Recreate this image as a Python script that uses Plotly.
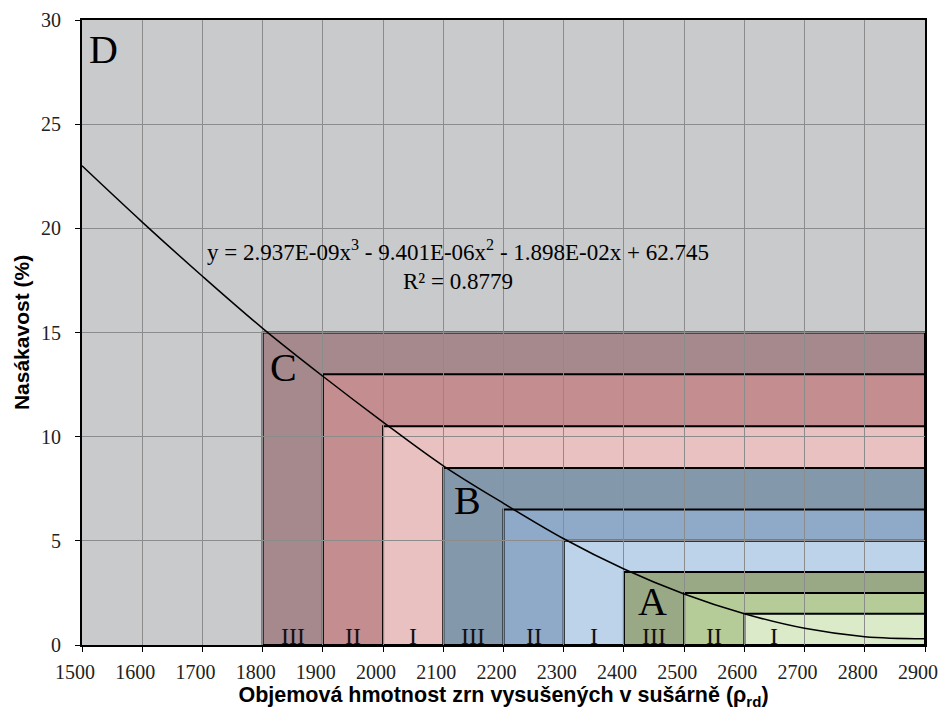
import plotly.graph_objects as go

# Trend line values
curve_x = [1500, 1600, 1700, 1800, 1900, 2000, 2100, 2200, 2300, 2400, 2500, 2600, 2700, 2800, 2900]
curve_y = [23.0, 20.3, 17.7, 15.2, 12.9, 10.7, 8.6, 6.8, 5.1, 3.65, 2.45, 1.5, 0.8, 0.4, 0.3]

# Nested class regions (start x, top y), all extending to x = 2900, from y = 0
region_x0 = [1800, 1900, 2000, 2100, 2200, 2300, 2400, 2500, 2600]
region_top = [15, 13, 10.5, 8.5, 6.5, 5, 3.5, 2.5, 1.5]
region_end = 2900
region_colors = ["#a5898c", "#c48d8f", "#e9c1c1", "#8498ab", "#8faac9", "#bcd3ea",
                 "#9aa985", "#b5cc98", "#dbeac8"]
region_labels = ["III", "II", "I", "III", "II", "I", "III", "II", "I"]

group_letters = ["D", "C", "B", "A"]
group_x = [1535, 1834, 2141, 2447]
group_y = [28.6, 13.3, 6.95, 2.1]

equation = "y = 2.937E-09x<sup>3</sup> - 9.401E-06x<sup>2</sup> - 1.898E-02x + 62.745"
r_squared = "R² = 0.8779"

serif = "Liberation Serif, Times New Roman, serif"
sans = "Liberation Sans, Arial, sans-serif"

fig = go.Figure()

shapes = []
for x0, top, col in zip(region_x0, region_top, region_colors):
    shapes.append(dict(type="rect", xref="x", yref="y", x0=x0, x1=region_end, y0=0, y1=top,
                       fillcolor=col, line=dict(color="black", width=2), layer="below"))

fig.add_trace(go.Scatter(x=curve_x, y=curve_y, mode="lines",
                         line=dict(color="black", width=1.5, shape="spline"),
                         hoverinfo="skip", showlegend=False))

annotations = []
for x0, lab in zip(region_x0, region_labels):
    annotations.append(dict(x=x0 + 50, y=0, xref="x", yref="y", text=lab, showarrow=False,
                            yanchor="bottom", yshift=-6,
                            font=dict(family=serif, size=24, color="#111")))
for let, gx, gy in zip(group_letters, group_x, group_y):
    annotations.append(dict(x=gx, y=gy, xref="x", yref="y", text=let, showarrow=False,
                            font=dict(family=serif, size=40, color="black")))
annotations.append(dict(x=2124, y=18.95, xref="x", yref="y", text=equation, showarrow=False,
                        font=dict(family=serif, size=23, color="black")))
annotations.append(dict(x=2124, y=17.45, xref="x", yref="y", text=r_squared, showarrow=False,
                        font=dict(family=serif, size=23, color="black")))

fig.update_layout(
    width=948, height=709,
    margin=dict(l=74, r=31, t=12, b=72),
    paper_bgcolor="white",
    plot_bgcolor="#c9cacb",
    shapes=shapes,
    annotations=annotations,
    showlegend=False,
    xaxis=dict(range=[1500, 2900], dtick=100, tick0=1500, automargin=False,
               showgrid=True, gridcolor="#8c8c8c", gridwidth=1,
               showline=True, linecolor="black", linewidth=2, mirror=True,
               ticks="outside", ticklen=5, tickcolor="black",
               tickfont=dict(family=serif, size=20, color="#222"),
               ticklabelshift=-7, ticklabelstandoff=3,
               zeroline=False,
               title=dict(text="<b>Objemová hmotnost zrn vysušených v sušárně (ρ<sub>rd</sub>)</b>",
                          font=dict(family=sans, size=21.5, color="black"), standoff=4)),
    yaxis=dict(range=[0, 30], dtick=5, automargin=False,
               showgrid=True, gridcolor="#8c8c8c", gridwidth=1,
               showline=True, linecolor="black", linewidth=2, mirror=True,
               ticks="outside", ticklen=5, tickcolor="black",
               tickfont=dict(family=serif, size=20, color="#222"),
               ticklabelstandoff=10,
               zeroline=False,
               title=dict(text="<b>Nasákavost (%)</b>",
                          font=dict(family=sans, size=21, color="black"), standoff=6)),
)

fig.write_html("out.html")
